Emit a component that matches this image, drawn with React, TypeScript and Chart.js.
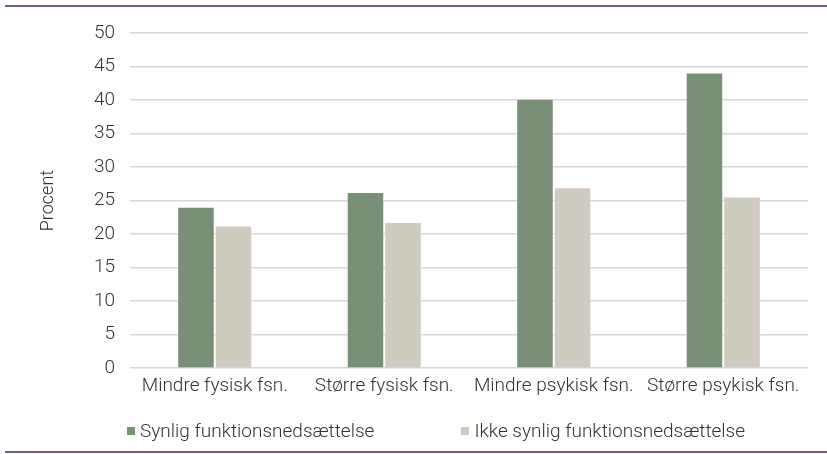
import React, { useEffect, useRef } from "react";
import { Chart, registerables } from "chart.js";

Chart.register(...registerables);

const categories = ["Mindre fysisk fsn.", "Større fysisk fsn.", "Mindre psykisk fsn.", "Større psykisk fsn."];
const seriesNames = ["Synlig funktionsnedsættelse", "Ikke synlig funktionsnedsættelse"];
const synlig = [24.1, 26.3, 40.2, 44.1];
const ikkeSynlig = [21.3, 21.8, 27.0, 25.6];
const colors = ["#798f78", "#cfcbc0"];

const FONT = "Roboto";

const framePlugin = {
  id: "frame",
  afterDraw(chart: any) {
    const ctx = chart.ctx;
    ctx.save();
    ctx.fillStyle = "#6e5d8b";
    ctx.fillRect(5, 5, chart.width - 5, 2);
    ctx.fillRect(5, chart.height - 3, chart.width - 5, 2);
    ctx.restore();
  },
};

export default function App() {
  const ref = useRef<HTMLCanvasElement>(null);
  useEffect(() => {
    if (!ref.current) return;
    const chart = new Chart(ref.current, {
      type: "bar",
      data: {
        labels: categories,
        datasets: [
          { label: seriesNames[0], data: synlig, backgroundColor: colors[0], borderColor: "rgba(255,255,255,0.5)", borderWidth: 1 },
          { label: seriesNames[1], data: ikkeSynlig, backgroundColor: colors[1], borderColor: "rgba(255,255,255,0.5)", borderWidth: 1 },
        ],
      },
      options: {
        animation: false,
        responsive: false,
        maintainAspectRatio: false,
        datasets: { bar: { categoryPercentage: 0.443, barPercentage: 1 } },
        layout: { padding: { left: 38, right: 19, top: 33, bottom: 49 } },
        plugins: {
          tooltip: { enabled: false },
          legend: { display: false },
        },
        scales: {
          x: {
            grid: { display: false, drawTicks: false },
            border: { display: false },
            ticks: { color: "#333333", padding: 7, font: { family: FONT, size: 19, weight: 300 } },
          },
          y: {
            min: 0,
            max: 50,
            ticks: { stepSize: 5, padding: 15, color: "#333333", font: { family: FONT, size: 19, weight: 300 } },
            grid: { color: "#d6d6d6", lineWidth: 1.5, drawTicks: false },
            border: { display: false },
            title: {
              display: true,
              text: "Procent",
              color: "#333333",
              padding: { top: 0, bottom: 0 },
              font: { family: FONT, size: 18, weight: 300 },
            },
            afterFit: (scale: any) => {
              scale.width = 92;
            },
          },
        },
      },
      plugins: [framePlugin],
    });
    return () => chart.destroy();
  }, []);
  return (
    <div style={{ position: "absolute", left: 0, top: 0, width: 827, height: 454, background: "#fff" }}>
      <canvas ref={ref} width={827} height={454} style={{ display: "block" }} />
      <div
        style={{
          position: "absolute",
          left: 127,
          top: 420,
          height: 22,
          display: "flex",
          alignItems: "center",
          fontFamily: FONT,
          fontWeight: 300,
          fontSize: 19,
          lineHeight: "22px",
          color: "#333333",
          whiteSpace: "nowrap",
        }}
      >
        {seriesNames.map((name, i) => (
          <div key={name} style={{ display: "flex", alignItems: "center", marginRight: i === 0 ? 87 : 0 }}>
            <span style={{ display: "inline-block", width: 8, height: 8, background: colors[i], marginRight: 5 }} />
            <span>{name}</span>
          </div>
        ))}
      </div>
    </div>
  );
}
